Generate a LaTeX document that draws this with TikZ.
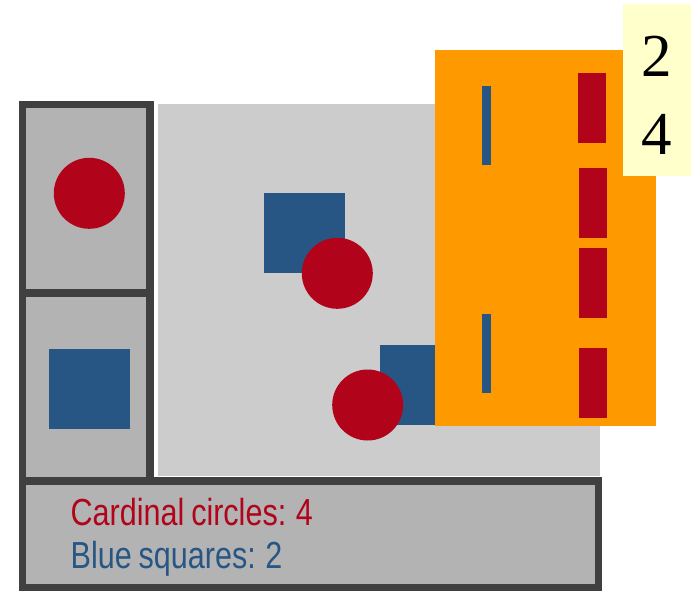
\documentclass[tikz,border=0pt]{standalone}
\usepackage{fontspec}
\newfontfamily\legendfont{Liberation Sans}[FakeStretch=0.81,WordSpace=0.81]
\newfontfamily\digitfont{Liberation Serif}
\definecolor{cardinal}{HTML}{B1041A}
\definecolor{bluesq}{HTML}{285684}
\definecolor{darkline}{HTML}{404040}
\definecolor{cellgray}{HTML}{B3B3B3}
\definecolor{panelgray}{HTML}{CCCCCC}
\definecolor{orangebox}{HTML}{FF9900}
\definecolor{paleyellow}{HTML}{FFFFCC}
\begin{document}
\begin{tikzpicture}[x=1pt,y=-1pt,
  cell/.style={rectangle,anchor=north west,inner sep=0pt,outer sep=0pt,fill=cellgray,draw=darkline,line width=7.5pt},
  redcircle/.style={circle,fill=cardinal,inner sep=0pt,minimum size=71pt},
  bluesquare/.style={rectangle,fill=bluesq,inner sep=0pt,anchor=north west,minimum width=81pt,minimum height=80pt},
  bluebar/.style={rectangle,fill=bluesq,inner sep=0pt,anchor=north west,minimum width=9pt,minimum height=79pt},
  redbar/.style={rectangle,fill=cardinal,inner sep=0pt,anchor=north west,minimum width=28pt,minimum height=70pt},
  legend/.style={anchor=base west,inner sep=0pt,font=\legendfont\fontsize{37.7}{43}\selectfont},
  digit/.style={anchor=base,inner sep=0pt,font=\digitfont\fontsize{61}{70}\selectfont}]
\useasboundingbox (0,0) rectangle (691,590);
\fill[white] (0,0) rectangle (691,590);
% left column cells
\node[cell,minimum width=127.5pt,minimum height=188.5pt] (topcell) at (22.5,104.5) {};
\node[cell,minimum width=127.5pt,minimum height=188pt] (botcell) at (22.5,293) {};
\node[redcircle] (cellcircle) at (89.3,193.3) {};
\node[bluesquare] (cellsquare) at (48.7,349) {};
% light gray panel
\node[rectangle,anchor=north west,inner sep=0pt,fill=panelgray,draw=white,line width=1.2pt,minimum width=443pt,minimum height=373pt] (panel) at (157,103) {};
\node[bluesquare] (sqA) at (263.3,192.3) {};
\node[redcircle] (circA) at (337.3,273.3) {};
\node[bluesquare] (sqB) at (380,344.3) {};
\node[redcircle] (circB) at (367.7,405) {};
% orange box
\node[rectangle,anchor=north west,inner sep=0pt,fill=orangebox,minimum width=221pt,minimum height=376pt] (orange) at (435,50) {};
\node[bluebar] (barA) at (482,86) {};
\node[bluebar] (barB) at (482,313.5) {};
\node[redbar] (rbarA) at (577.5,72.3) {};
\node[redbar] (rbarB) at (579,168) {};
\node[redbar] (rbarC) at (579,247.7) {};
\node[redbar] (rbarD) at (579,347.3) {};
% yellow count box
\node[rectangle,anchor=north west,inner sep=0pt,fill=paleyellow,minimum width=70pt,minimum height=172pt] (counts) at (623,4) {};
\node[digit] (dtwo) at (657,76.7) {2};
\node[digit] (dfour) at (657,154) {4};
% bottom legend panel
\node[cell,minimum width=576pt,minimum height=107pt] (legendbox) at (22.5,481) {};
\node[legend,text=cardinal] (lred) at (70.5,525) {Cardinal circles: 4};
\node[legend,text=bluesq] (lblue) at (70.5,568) {Blue squares: 2};
\end{tikzpicture}
\end{document}
